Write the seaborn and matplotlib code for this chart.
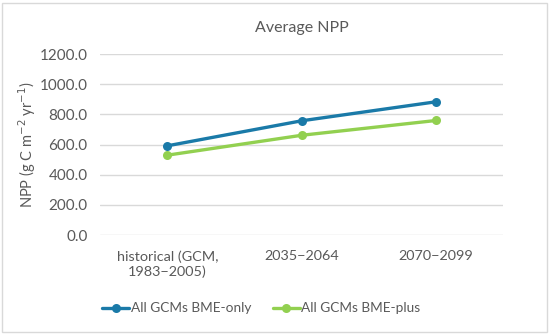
import matplotlib
matplotlib.use("Agg")
import matplotlib.pyplot as plt
import seaborn as sns
import pandas as pd
from matplotlib.patches import Rectangle

periods = ["historical (GCM,\n1983\u22122005)", "2035\u22122064", "2070\u22122099"]
bme_only = [592, 758, 884]
bme_plus = [530, 662, 760]
series_names = ["All GCMs BME-only", "All GCMs BME-plus"]
yticks = [0, 200, 400, 600, 800, 1000, 1200]

df = pd.DataFrame({
    "pos": list(range(len(periods))) * 2,
    "npp": bme_only + bme_plus,
    "series": [series_names[0]] * 3 + [series_names[1]] * 3,
})

sns.set_theme(style="white")
plt.rcParams["font.family"] = ["Lato", "DejaVu Sans"]
txt = "#595959"

fig = plt.figure(figsize=(5.5, 3.34), dpi=100)
ax = fig.add_axes([0.182, 0.296, 0.733, 0.542])

sns.lineplot(data=df, x="pos", y="npp", hue="series",
             palette=["#1a7aa8", "#92d050"], marker="o", markersize=6.5,
             markeredgewidth=0, linewidth=2.4, ax=ax, legend=True)

ax.set_xlim(-0.5, 2.5)
ax.set_ylim(0, 1200)
ax.set_yticks(yticks)
ax.set_yticklabels([f"{v:.1f}" for v in yticks], color=txt, fontsize=11)
ax.set_xticks(range(len(periods)))
ax.set_xticklabels(periods, color=txt, fontsize=10.4, linespacing=1.25)
ax.tick_params(axis="y", length=0, pad=9)
ax.tick_params(axis="x", length=0, pad=11)
ax.grid(axis="y", color="#d9d9d9", linewidth=1)
ax.set_axisbelow(True)
for s in ax.spines.values():
    s.set_visible(False)
ax.set_xlabel("")
ax.set_ylabel("NPP (g C m$^{-2}$ yr$^{-1}$)", color=txt, fontsize=10.5)
ax.yaxis.set_label_coords(-0.155, 0.5)
ax.set_title("Average NPP", color=txt, fontsize=11.5, pad=16)

handles, labels = ax.get_legend_handles_labels()
ax.legend(handles, labels, loc="center", bbox_to_anchor=(0.40, -0.405),
          ncol=2, frameon=False, fontsize=9.8, labelcolor=txt,
          handlelength=2.0, handletextpad=0.1, columnspacing=1.6)

fig.patches.append(Rectangle((0.004, 0.006), 0.99, 0.985, transform=fig.transFigure,
                             fill=False, edgecolor="#d9d9d9", linewidth=1))

fig.savefig("out.png", dpi=100)
